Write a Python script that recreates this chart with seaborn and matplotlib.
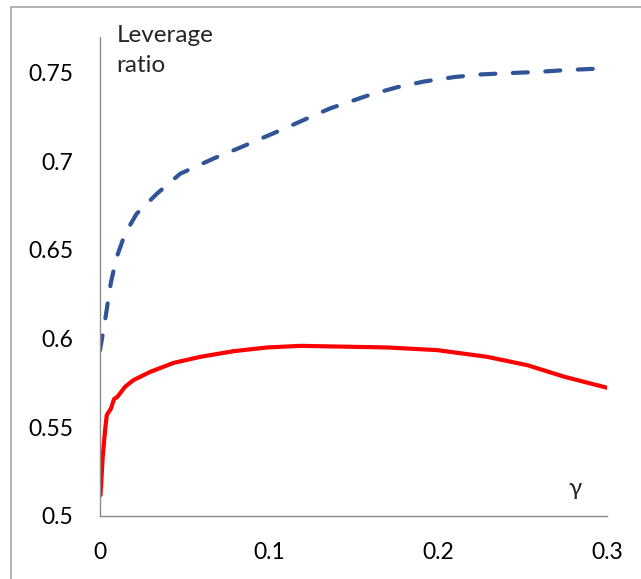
import matplotlib
matplotlib.use("Agg")
import matplotlib.pyplot as plt
import seaborn as sns
import pandas as pd
from matplotlib.lines import Line2D

# values
gamma_blue = [0.0, 0.003, 0.0065, 0.0099, 0.0148, 0.0217, 0.0336, 0.0474, 0.0672,
              0.083, 0.1087, 0.1285, 0.1363, 0.16, 0.1759, 0.1917, 0.2095, 0.2253,
              0.241, 0.2588, 0.2747, 0.3]
lev_blue = [0.5934, 0.6103, 0.6319, 0.6459, 0.6591, 0.6704, 0.6816, 0.6929, 0.7015,
            0.7077, 0.7182, 0.7266, 0.7298, 0.7375, 0.7417, 0.7449, 0.7474, 0.7489,
            0.7496, 0.7503, 0.7513, 0.7524]

gamma_red = [0.0003, 0.0016, 0.003, 0.004, 0.0065, 0.0083, 0.0103, 0.0148, 0.0198,
             0.0296, 0.0435, 0.0593, 0.079, 0.0988, 0.1186, 0.1304, 0.17, 0.1996,
             0.2292, 0.2529, 0.2747, 0.3]
lev_red = [0.5118, 0.5334, 0.5484, 0.5569, 0.5606, 0.5659, 0.5672, 0.5728, 0.5766,
           0.5812, 0.5863, 0.5897, 0.5929, 0.595, 0.5959, 0.5957, 0.595, 0.5935,
           0.5897, 0.585, 0.5785, 0.5723]

x_ticks = [0, 0.1, 0.2, 0.3]
x_labels = ["0", "0.1", "0.2", "0.3"]
y_ticks = [0.5, 0.55, 0.6, 0.65, 0.7, 0.75]
y_labels = ["0.5", "0.55", "0.6", "0.65", "0.7", "0.75"]

sns.set_theme(style="white")
plt.rcParams['font.family'] = ['Lato', 'DejaVu Sans']

df_blue = pd.DataFrame({'gamma': gamma_blue, 'lev': lev_blue})
df_red = pd.DataFrame({'gamma': gamma_red, 'lev': lev_red})

fig = plt.figure(figsize=(6.41, 5.79), dpi=100)
ax = fig.add_axes([100/641, 1 - 516/579, 507/641, 479/579])

sns.lineplot(data=df_blue, x='gamma', y='lev', ax=ax, color='#2F5597', lw=3.0,
             linestyle=(0, (3.6, 4.2)), dash_capstyle='round', sort=False)
sns.lineplot(data=df_red, x='gamma', y='lev', ax=ax, color='#FF0000', lw=3.0,
             sort=False)

ax.set_xlim(0, 0.3)
ax.set_ylim(0.5, 0.77)
ax.set_xticks(x_ticks)
ax.set_xticklabels(x_labels)
ax.set_yticks(y_ticks)
ax.set_yticklabels(y_labels)
ax.set_xlabel('')
ax.set_ylabel('')

for s in ['top', 'right']:
    ax.spines[s].set_visible(False)
for s in ['left', 'bottom']:
    ax.spines[s].set_color('#8C8C8C')
    ax.spines[s].set_linewidth(1.0)
ax.tick_params(axis='both', direction='out', length=6, width=1.0, color='#8C8C8C',
               labelsize=16.5, labelcolor='black', pad=13)

ax.text(0.033, 1.025, 'Leverage\nratio', transform=ax.transAxes, fontsize=17.5,
        va='top', ha='left', linespacing=1.55)
ax.text(0.937, 0.035, 'γ', transform=ax.transAxes, fontsize=17.5, ha='center', va='bottom')

# figure frame (left and top edges)
fig.add_artist(Line2D([11/641, 11/641], [0, 1 - 7/579], transform=fig.transFigure,
                      color='#A6A6A6', lw=1.2))
fig.add_artist(Line2D([11/641, 1], [1 - 7/579, 1 - 7/579], transform=fig.transFigure,
                      color='#A6A6A6', lw=1.2))

fig.savefig('out.png', dpi=100)
